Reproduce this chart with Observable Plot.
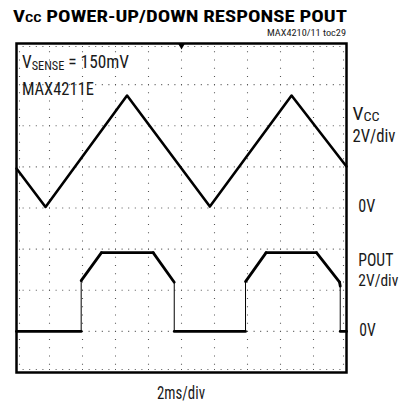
<!DOCTYPE html>
<html><head><meta charset="utf-8">
<script src="https://cdn.jsdelivr.net/npm/d3@7"></script>
<script src="https://cdn.jsdelivr.net/npm/@observablehq/plot@0.6"></script>
<style>html,body{margin:0;padding:0;background:#fff;}</style>
</head><body><div id="chart"></div>
<script>
// Time axis: ms (2 ms/div, 10 divisions)
const timeGrid = [2, 4, 6, 8, 10, 12, 14, 16, 18];
// Vertical axis: divisions (8 divisions, 2 V/div)
const divGrid = [1, 2, 3, 4, 5, 6, 7];
const voltsPerDiv = 2;
const vccGroundDiv = 4;
const poutGroundDiv = 1;

// VCC triangle sweep (ms, V)
const vccTime  = [0,    1.76, 6.70, 11.72, 16.67, 20];
const vccVolts = [1.92, 0.05, 5.47, 0.07,  5.47,  2.02];

// POUT response (ms, V)
const poutTime  = [0, 3.92, 3.92, 5.15, 8.28, 9.56, 9.56, 13.88, 13.88, 15.13, 18.18, 19.58, 19.62, 19.62, 20];
const poutVolts = [0, 0,    2.47, 3.83, 3.83, 2.39, 0,    0,     2.42,  3.83,  3.83,  2.39,  2.2,   0,     0];

const titleMain = " POWER-UP/DOWN RESPONSE POUT";
const tocLabel = "MAX4210/11 toc29";
const condLine1 = ["V", "SENSE", " = 150mV"];
const condLine2 = "MAX4211E";
const vccLabel = ["V", "CC", "2V/div", "0V"];
const poutLabel = ["POUT", "2V/div", "0V"];
const xLabel = "2ms/div";

const vcc = vccTime.map((t, i) => ({t, d: vccGroundDiv + vccVolts[i] / voltsPerDiv}));
const pout = poutTime.map((t, i) => ({t, d: poutGroundDiv + poutVolts[i] / voltsPerDiv}));
const poutSegs = pout.slice(1).map((p, i) => ({a: pout[i], b: p}));

const FONT = "'Liberation Sans Narrow','Roboto Condensed','DejaVu Sans Condensed','Liberation Sans',Arial,sans-serif";
const dotStyle = {stroke: "#555", strokeWidth: 1.1};

const plot = Plot.plot({
  width: 402, height: 405,
  marginLeft: 16, marginRight: 56, marginTop: 43, marginBottom: 33,
  x: {domain: [0, 20], axis: null},
  y: {domain: [0, 8], axis: null},
  style: {fontFamily: FONT, background: "white", overflow: "visible"},
  marks: [
    Plot.ruleY(divGrid, {...dotStyle, strokeDasharray: "1 5.6"}),
    Plot.ruleX(timeGrid, {...dotStyle, strokeDasharray: "1 7.225"}),
    Plot.ruleY([8], {...dotStyle, dy: 3, strokeDasharray: "1 5.6"}),
    Plot.ruleY([0], {...dotStyle, dy: -3, strokeDasharray: "1 5.6"}),
    Plot.ruleX([0], {...dotStyle, dx: 3, strokeDasharray: "1 7.225"}),
    Plot.ruleX([20], {...dotStyle, dx: -3, strokeDasharray: "1 7.225"}),
    Plot.line(vcc, {x: "t", y: "d", stroke: "black", strokeWidth: 2.6}),
    Plot.link(poutSegs, {
      x1: s => s.a.t, y1: s => s.a.d, x2: s => s.b.t, y2: s => s.b.d,
      stroke: "black", strokeLinecap: "round",
      strokeWidth: s => (s.a.t === s.b.t ? 1 : 2.8)
    }),
    Plot.dot([10], {x: t => t, y: () => 8, symbol: "triangle", rotate: 180, r: 2.6, fill: "black", stroke: "none", dy: 2}),
    Plot.frame({stroke: "black", strokeWidth: 2.5})
  ]
});
document.getElementById("chart").appendChild(plot);

const svg = d3.select(plot);
const sx = plot.scale("x"), sy = plot.scale("y");
const ink = "#1a1a1a";

function label(x, y, parts, size, opts = {}) {
  const t = svg.append("text")
    .attr("x", x).attr("y", y)
    .attr("fill", opts.fill || ink)
    .attr("font-family", FONT)
    .attr("font-size", size)
    .attr("font-weight", opts.weight || "normal")
    .attr("text-anchor", opts.anchor || "start");
  if (opts.len) t.attr("textLength", opts.len).attr("lengthAdjust", "spacingAndGlyphs");
  parts.forEach(p => {
    const s = typeof p === "string" ? {text: p} : p;
    const ts = t.append("tspan").text(s.text);
    if (s.size) ts.attr("font-size", s.size);
    if (s.dy) ts.attr("dy", s.dy);
  });
  return t;
}

const xr = sx.apply(20);
// Title
label(13, 22, ["V", {text: "CC", size: 11.5}, titleMain], 16.5, {weight: "bold", len: 334, fill: "#000"});
label(xr, 36, [tocLabel], 9.5, {anchor: "end", len: 79});
// Conditions
label(22, 68, [condLine1[0], {text: condLine1[1], size: 13.5, dy: 1.5}, {text: condLine1[2], dy: -1.5}], 19, {len: 107});
label(22, 95, [condLine2], 19, {len: 72});
// Right side channel labels
label(xr + 6.5, sy.apply(vccGroundDiv + 2.12), [vccLabel[0], {text: vccLabel[1], size: 13, dy: 0.5}], 18, {len: 27});
label(xr + 6.5, sy.apply(vccGroundDiv + 1.6), [vccLabel[2]], 18, {len: 43});
label(xr + 12.3, sy.apply(vccGroundDiv) + 4, [vccLabel[3]], 18.5, {len: 17});
label(xr + 12.3, sy.apply(poutGroundDiv + 1.57), [poutLabel[0]], 18, {len: 35});
label(xr + 12.3, sy.apply(poutGroundDiv + 1.08), [poutLabel[1]], 17, {len: 40});
label(xr + 13.3, sy.apply(poutGroundDiv) + 5.6, [poutLabel[2]], 18.5, {len: 16.5});
// X scale note
label(sx.apply(10), 398.5, [xLabel], 18.5, {anchor: "middle", len: 48});
</script>
</body></html>
